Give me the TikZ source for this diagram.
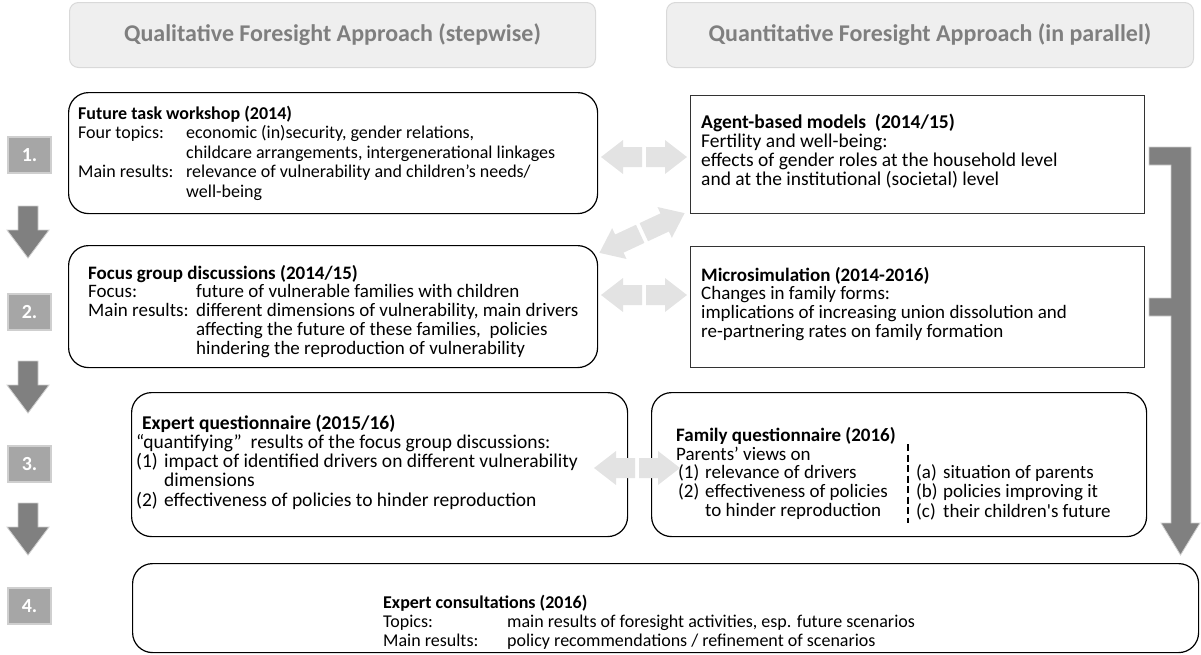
\documentclass[tikz,border=0pt]{standalone}
\usepackage{fontspec}
\setmainfont{Carlito}
\usetikzlibrary{calc}
\definecolor{hdrfill}{HTML}{EFEFEF}
\definecolor{hdrline}{HTML}{D9D9D9}
\definecolor{hdrtext}{HTML}{7F7F7F}
\definecolor{stepfill}{HTML}{A6A6A6}
\definecolor{stepline}{HTML}{CFCFCF}
\definecolor{darkarrow}{HTML}{808080}
\definecolor{lightarrow}{HTML}{E3E3E3}
\newcommand{\dblarrow}[4]{%
  \begin{scope}[shift={(#1,#2)},rotate=#3]
    \fill[lightarrow] (2,-10) -- (#4-22,-10) -- (#4-22,-17) -- (#4,0) -- (#4-22,17) -- (#4-22,10) -- (2,10) -- cycle;
    \fill[lightarrow] (-2,-10) -- (-#4+22,-10) -- (-#4+22,-17) -- (-#4,0) -- (-#4+22,17) -- (-#4+22,10) -- (-2,10) -- cycle;
  \end{scope}}
\newcommand{\downarrowblk}[2]{%
  \filldraw[darkarrow,draw=stepline,line width=0.8pt] (18,#1) -- (38,#1) -- (38,#2-28) -- (49,#2-28) -- (28,#2) -- (7,#2-28) -- (18,#2-28) -- cycle;}
\begin{document}
\begin{tikzpicture}[x=1pt,y=-1pt,
  hdr/.style={draw=hdrline,fill=hdrfill,rounded corners=9pt,line width=1pt},
  hdrlabel/.style={text=hdrtext,font=\bfseries\fontsize{24}{28}\selectfont},
  rbox/.style={draw=black,rounded corners=20pt,line width=1.2pt,anchor=north west,inner sep=0pt},
  sbox/.style={draw=black!80,line width=1.2pt,anchor=north west,inner sep=0pt},
  stepbox/.style={draw=stepline,fill=stepfill,line width=1.5pt,minimum width=43pt,minimum height=36pt,inner sep=0pt,text=white,font=\bfseries\fontsize{20}{24}\selectfont},
  txta/.style={anchor=base west,inner sep=0pt,align=left,font=\fontsize{18}{19.5}\selectfont},
  txtc/.style={anchor=base west,inner sep=0pt,align=left,font=\fontsize{18}{19}\selectfont},
  txtd/.style={anchor=base west,inner sep=0pt,align=left,font=\fontsize{19}{18.7}\selectfont},
  txte/.style={anchor=base west,inner sep=0pt,align=left,font=\fontsize{19.5}{18.5}\selectfont}]
\useasboundingbox (0,0) rectangle (1201,654);

% headers
\node[hdr,minimum width=526pt,minimum height=65pt,anchor=north west] (hl) at (69,2) {};
\node[hdrlabel] (hlt) at (hl.center) {Qualitative Foresight Approach (stepwise)};
\node[hdr,minimum width=527pt,minimum height=65pt,anchor=north west] (hr) at (666,2) {};
\node[hdrlabel] (hrt) at (hr.center) {Quantitative Foresight Approach (in parallel)};

% main boxes
\node[rbox,minimum width=529pt,minimum height=121pt] (b1) at (68,92) {};
\node[sbox,minimum width=454pt,minimum height=118pt] (ab) at (690,95) {};
\node[rbox,minimum width=529pt,minimum height=122pt] (b2) at (68,245) {};
\node[sbox,minimum width=454pt,minimum height=121pt] (ms) at (690,246) {};
\node[rbox,minimum width=496pt,minimum height=144pt] (eq) at (131,392) {};
\node[rbox,minimum width=495pt,minimum height=144pt] (fq) at (651,392) {};
\node[rbox,minimum width=1066pt,minimum height=89pt] (ec) at (132,563) {};

% texts
\node[txta] (t1) at (78,119) {\begin{tabular}[t]{@{}p{108pt}@{}l@{}}
\multicolumn{2}{@{}l@{}}{\textbf{Future task workshop (2014)}}\\
Four topics: & economic (in)security, gender relations,\\
 & childcare arrangements, intergenerational linkages\\
Main results: & relevance of vulnerability and children’s needs/\\
 & well-being
\end{tabular}};

\node[txtd] (t2) at (88,279) {\begin{tabular}[t]{@{}p{108pt}@{}l@{}}
\multicolumn{2}{@{}l@{}}{\textbf{Focus group discussions (2014/15)}}\\
Focus: & future of vulnerable families with children\\
Main results: & different dimensions of vulnerability, main drivers\\
 & affecting the future of these families,\ \ policies\\
 & hindering the reproduction of vulnerability
\end{tabular}};

\node[txte] (t3) at (701,128) {\begin{tabular}[t]{@{}l@{}}
\textbf{Agent-based models\ \ (2014/15)}\\
Fertility and well-being:\\
effects of gender roles at the household level\\
and at the institutional (societal) level
\end{tabular}};

\node[txtd] (t4) at (701,281) {\begin{tabular}[t]{@{}l@{}}
\textbf{Microsimulation (2014-2016)}\\
Changes in family forms:\\
implications of increasing union dissolution and\\
re-partnering rates on family formation
\end{tabular}};

\node[txte] (t5a) at (142,429) {\textbf{Expert questionnaire (2015/16)}};
\node[txte] (t5) at (136,448) {\begin{tabular}[t]{@{}p{28pt}@{}l@{}}
\multicolumn{2}{@{}l@{}}{“quantifying”\ \ results of the focus group discussions:}\\
(1) & impact of identified drivers on different vulnerability\\
 & dimensions\\
(2) & effectiveness of policies to hinder reproduction
\end{tabular}};

\node[txtd] (t6) at (676,441) {\begin{tabular}[t]{@{}l@{}}
\textbf{Family questionnaire (2016)}\\
Parents’ views on
\end{tabular}};
\node[txtd] (t7) at (678,478) {\begin{tabular}[t]{@{}p{27pt}@{}l@{}}
(1) & relevance of drivers\\
(2) & effectiveness of policies\\
 & to hinder reproduction
\end{tabular}};
\node[txtd] (t8) at (916,478) {\begin{tabular}[t]{@{}p{27pt}@{}l@{}}
(a) & situation of parents\\
(b) & policies improving it\\
(c) & their children\textquotesingle s future
\end{tabular}};
\coordinate (dtop) at (908,444);
\coordinate (dbot) at (908,523);
\draw[line width=2pt,dash pattern=on 7pt off 3.5pt] (dtop) -- (dbot);

\node[txtc] (t9) at (383,608) {\begin{tabular}[t]{@{}p{124pt}@{}l@{}}
\multicolumn{2}{@{}l@{}}{\textbf{Expert consultations (2016)}}\\
Topics: & main results of foresight activities, esp. future scenarios\\
Main results: & policy recommendations / refinement of scenarios
\end{tabular}};

% step boxes and arrows
\node[stepbox] (s1) at (29.5,155) {1.};
\node[stepbox] (s2) at (29.5,312) {2.};
\node[stepbox] (s3) at (29.5,464) {3.};
\node[stepbox] (s4) at (29.5,606) {4.};
\downarrowblk{206}{258}
\downarrowblk{361}{413}
\downarrowblk{503}{555}

% light double arrows
\dblarrow{644}{157}{0}{43}
\dblarrow{642}{233}{25}{47}
\dblarrow{644}{295}{0}{43}
\dblarrow{637}{468}{0}{43}

% right bracket arrow
\filldraw[darkarrow,draw=stepline,line width=0.8pt]
 (1149,147) -- (1191,147) -- (1191,523) -- (1200,523) -- (1180.5,555) -- (1161,523) -- (1171,523)
 -- (1171,316) -- (1149,316) -- (1149,298) -- (1171,298) -- (1171,165) -- (1149,165) -- cycle;
\end{tikzpicture}
\end{document}
